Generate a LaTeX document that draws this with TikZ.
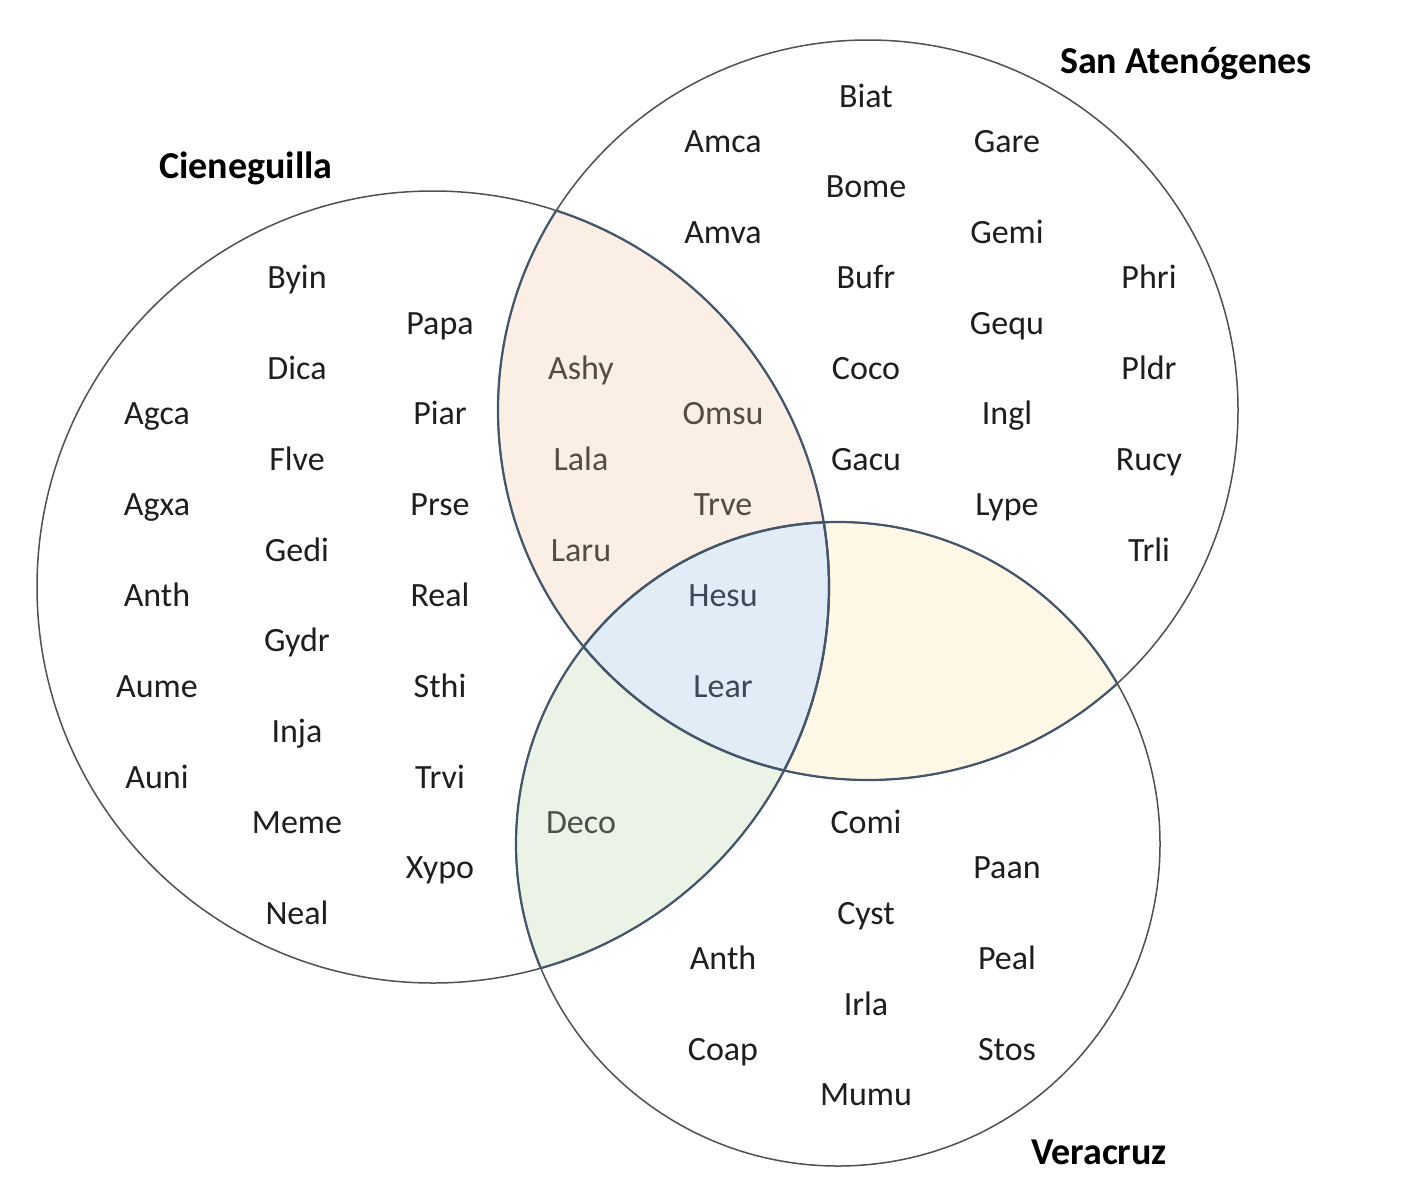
\documentclass[tikz,border=0pt]{standalone}
\usepackage{fontspec}
\setmainfont{Carlito}
\definecolor{peachfill}{RGB}{251,238,229}
\definecolor{bluefill}{RGB}{225,236,247}
\definecolor{yellowfill}{RGB}{255,248,230}
\definecolor{greenfill}{RGB}{235,243,230}
\definecolor{ringgray}{RGB}{80,80,80}
\definecolor{ringblue}{RGB}{68,86,108}
\definecolor{txtmain}{RGB}{30,30,30}
\definecolor{txtpeach}{RGB}{88,74,64}
\definecolor{txtblue}{RGB}{60,72,88}
\definecolor{txtgreen}{RGB}{72,82,70}
\tikzset{
  lbl/.style={anchor=base, inner sep=0pt, font=\fontsize{34}{40}\selectfont, text=txtmain},
  ttl/.style={anchor=base, inner sep=0pt, font=\fontsize{38}{44}\selectfont\bfseries, text=black},
  ring/.style={draw=ringgray, line width=1.5pt},
  innerring/.style={draw=ringblue, line width=2.2pt}
}
\begin{document}
\begin{tikzpicture}[x=1pt,y=-1pt]
\useasboundingbox (0,0) rectangle (1415,1202);
\fill[white] (0,0) rectangle (1415,1202);
\coordinate (o1) at (433,587);
\coordinate (o2) at (868,410);
\coordinate (o3) at (838,844);
\def\ra{396pt}
\def\rb{370pt}
\def\rc{322pt}
% region fills
\begin{scope}
  \clip (o1) circle[radius=\ra];
  \fill[peachfill] (o2) circle[radius=\rb];
  \fill[greenfill] (o3) circle[radius=\rc];
\end{scope}
\begin{scope}
  \clip (o2) circle[radius=\rb];
  \fill[yellowfill] (o3) circle[radius=\rc];
  \clip (o1) circle[radius=\ra];
  \fill[bluefill] (o3) circle[radius=\rc];
\end{scope}
% circles
\draw[ring] (o1) circle[radius=\ra];
\draw[ring] (o2) circle[radius=\rb];
\draw[ring] (o3) circle[radius=\rc];
% inner arcs
\begin{scope}
  \clip (o2) circle[radius=\rb];
  \draw[innerring] (o1) circle[radius=\ra];
  \draw[innerring] (o3) circle[radius=\rc];
\end{scope}
\begin{scope}
  \clip (o1) circle[radius=\ra];
  \draw[innerring] (o2) circle[radius=\rb];
  \draw[innerring] (o3) circle[radius=\rc];
\end{scope}
\begin{scope}
  \clip (o3) circle[radius=\rc];
  \draw[innerring] (o1) circle[radius=\ra];
  \draw[innerring] (o2) circle[radius=\rb];
\end{scope}
% titles
\node[ttl] (tcien) at (246,178) {Cieneguilla};
\node[ttl] (tsan) at (1186,73) {San Atenógenes};
\node[ttl] (tvera) at (1099,1164) {Veracruz};
% labels: name/text/x/row
\foreach \n/\t/\x/\k in {
  agca/Agca/157/7, agxa/Agxa/157/9, anthc/Anth/157/11, aume/Aume/157/13, auni/Auni/157/15,
  byin/Byin/297/4, dica/Dica/297/6, flve/Flve/297/8, gedi/Gedi/297/10, gydr/Gydr/297/12,
  inja/Inja/297/14, meme/Meme/297/16, neal/Neal/297/18,
  papa/Papa/440/5, piar/Piar/440/7, prse/Prse/440/9, real/Real/440/11, sthi/Sthi/440/13,
  trvi/Trvi/440/15, xypo/Xypo/440/17,
  amca/Amca/723/1, amva/Amva/723/3,
  biat/Biat/866/0, bome/Bome/866/2, bufr/Bufr/866/4, coco/Coco/866/6, gacu/Gacu/866/8,
  gare/Gare/1007/1, gemi/Gemi/1007/3, gequ/Gequ/1007/5, ingl/Ingl/1007/7, lype/Lype/1007/9,
  phri/Phri/1149/4, pldr/Pldr/1149/6, rucy/Rucy/1149/8, trli/Trli/1149/10,
  comi/Comi/866/16, cyst/Cyst/866/18, irla/Irla/866/20, mumu/Mumu/866/22,
  paan/Paan/1007/17, peal/Peal/1007/19, stos/Stos/1007/21,
  anthv/Anth/723/19, coap/Coap/723/21}
  \node[lbl] (\n) at (\x,{107+45.4*\k}) {\t};
\foreach \n/\t/\x/\k in {ashy/Ashy/581/6, lala/Lala/581/8, laru/Laru/581/10, omsu/Omsu/723/7, trve/Trve/723/9}
  \node[lbl, text=txtpeach] (\n) at (\x,{107+45.4*\k}) {\t};
\foreach \n/\t/\x/\k in {hesu/Hesu/723/11, lear/Lear/723/13}
  \node[lbl, text=txtblue] (\n) at (\x,{107+45.4*\k}) {\t};
\node[lbl, text=txtgreen] (deco) at (581,{107+45.4*16}) {Deco};
\end{tikzpicture}
\end{document}
